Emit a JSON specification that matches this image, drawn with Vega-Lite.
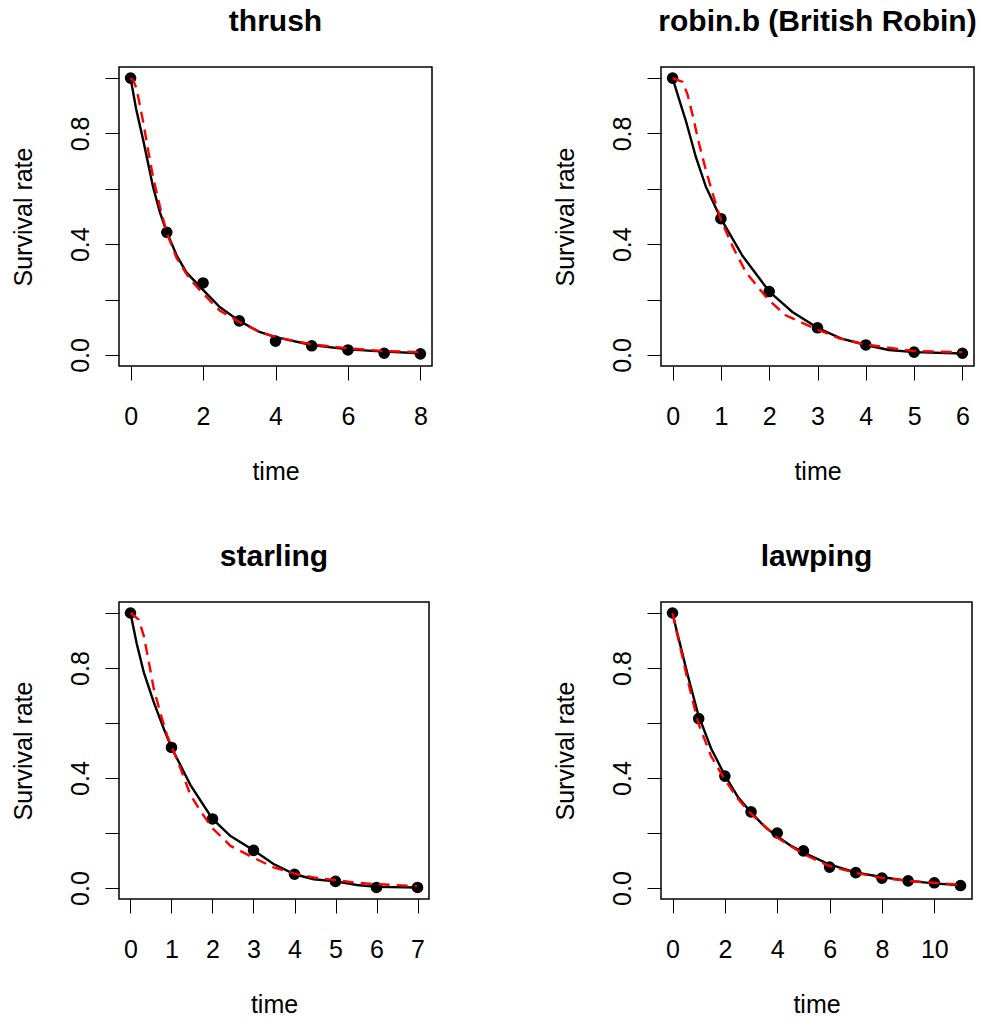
{
  "$schema": "https://vega.github.io/schema/vega-lite/v6.json",
  "background": "white",
  "padding": {"left": 10, "top": 6, "right": 0, "bottom": 0},
  "bounds": "flush",
  "align": "none",
  "columns": 2,
  "spacing": {"row": 236, "column": 229},
  "config": {
    "font": "Liberation Sans",
    "view": {"stroke": "black", "strokeWidth": 1.5},
    "axis": {"domain": false, "grid": false, "ticks": true, "tickColor": "black", "tickWidth": 1, "tickSize": 14, "labelFont": "Liberation Sans", "labelFontSize": 25, "labelColor": "black", "titleFont": "Liberation Sans", "titleFontSize": 25, "titleFontWeight": "normal", "titleColor": "black", "labelOverlap": false, "labelFlush": false},
    "axisX": {"labelPadding": 44, "labelBaseline": "alphabetic", "labelAngle": 0, "titlePadding": 50, "titleBaseline": "alphabetic"},
    "axisY": {"labelPadding": 17, "labelAngle": -90, "labelAlign": "center", "labelBaseline": "alphabetic", "titlePadding": 37, "titleBaseline": "alphabetic"},
    "title": {"font": "Liberation Sans", "fontSize": 30, "fontWeight": "bold", "color": "black", "anchor": "middle", "baseline": "alphabetic", "offset": 30}
  },
  "datasets": {
    "pts": [
      {"species": "thrush", "time": 0, "surv": 1.0},
      {"species": "thrush", "time": 1, "surv": 0.443},
      {"species": "thrush", "time": 2, "surv": 0.26},
      {"species": "thrush", "time": 3, "surv": 0.123},
      {"species": "thrush", "time": 4, "surv": 0.05},
      {"species": "thrush", "time": 5, "surv": 0.033},
      {"species": "thrush", "time": 6, "surv": 0.018},
      {"species": "thrush", "time": 7, "surv": 0.006},
      {"species": "thrush", "time": 8, "surv": 0.004},
      {"species": "robin", "time": 0, "surv": 1.0},
      {"species": "robin", "time": 1, "surv": 0.492},
      {"species": "robin", "time": 2, "surv": 0.229},
      {"species": "robin", "time": 3, "surv": 0.098},
      {"species": "robin", "time": 4, "surv": 0.036},
      {"species": "robin", "time": 5, "surv": 0.01},
      {"species": "robin", "time": 6, "surv": 0.006},
      {"species": "starling", "time": 0, "surv": 1.0},
      {"species": "starling", "time": 1, "surv": 0.511},
      {"species": "starling", "time": 2, "surv": 0.251},
      {"species": "starling", "time": 3, "surv": 0.137},
      {"species": "starling", "time": 4, "surv": 0.05},
      {"species": "starling", "time": 5, "surv": 0.024},
      {"species": "starling", "time": 6, "surv": 0.002},
      {"species": "starling", "time": 7, "surv": 0.002},
      {"species": "lawping", "time": 0, "surv": 1.0},
      {"species": "lawping", "time": 1, "surv": 0.616},
      {"species": "lawping", "time": 2, "surv": 0.407},
      {"species": "lawping", "time": 3, "surv": 0.277},
      {"species": "lawping", "time": 4, "surv": 0.2},
      {"species": "lawping", "time": 5, "surv": 0.135},
      {"species": "lawping", "time": 6, "surv": 0.076},
      {"species": "lawping", "time": 7, "surv": 0.056},
      {"species": "lawping", "time": 8, "surv": 0.036},
      {"species": "lawping", "time": 9, "surv": 0.026},
      {"species": "lawping", "time": 10, "surv": 0.019},
      {"species": "lawping", "time": 11, "surv": 0.009}
    ],
    "fit": [
      {"species": "thrush", "model": "a", "time": 0, "surv": 1.0},
      {"species": "thrush", "model": "a", "time": 0.15, "surv": 0.89},
      {"species": "thrush", "model": "a", "time": 0.35, "surv": 0.775},
      {"species": "thrush", "model": "a", "time": 0.62, "surv": 0.607},
      {"species": "thrush", "model": "a", "time": 0.81, "surv": 0.515},
      {"species": "thrush", "model": "a", "time": 1.0, "surv": 0.443},
      {"species": "thrush", "model": "a", "time": 1.27, "surv": 0.36},
      {"species": "thrush", "model": "a", "time": 1.54, "surv": 0.298},
      {"species": "thrush", "model": "a", "time": 2.0, "surv": 0.235},
      {"species": "thrush", "model": "a", "time": 2.46, "surv": 0.173},
      {"species": "thrush", "model": "a", "time": 3.0, "surv": 0.123},
      {"species": "thrush", "model": "a", "time": 3.56, "surv": 0.083},
      {"species": "thrush", "model": "a", "time": 4.0, "surv": 0.064},
      {"species": "thrush", "model": "a", "time": 5.0, "surv": 0.036},
      {"species": "thrush", "model": "a", "time": 6.0, "surv": 0.02},
      {"species": "thrush", "model": "a", "time": 7.0, "surv": 0.012},
      {"species": "thrush", "model": "a", "time": 8.0, "surv": 0.006},
      {"species": "thrush", "model": "b", "time": 0, "surv": 1.0},
      {"species": "thrush", "model": "b", "time": 0.08, "surv": 0.99},
      {"species": "thrush", "model": "b", "time": 0.165, "surv": 0.962},
      {"species": "thrush", "model": "b", "time": 0.35, "surv": 0.84},
      {"species": "thrush", "model": "b", "time": 0.49, "surv": 0.735},
      {"species": "thrush", "model": "b", "time": 0.62, "surv": 0.643},
      {"species": "thrush", "model": "b", "time": 0.81, "surv": 0.536},
      {"species": "thrush", "model": "b", "time": 1.0, "surv": 0.44},
      {"species": "thrush", "model": "b", "time": 1.27, "surv": 0.35},
      {"species": "thrush", "model": "b", "time": 1.63, "surv": 0.275},
      {"species": "thrush", "model": "b", "time": 2.0, "surv": 0.222},
      {"species": "thrush", "model": "b", "time": 2.46, "surv": 0.16},
      {"species": "thrush", "model": "b", "time": 3.0, "surv": 0.119},
      {"species": "thrush", "model": "b", "time": 3.56, "surv": 0.083},
      {"species": "thrush", "model": "b", "time": 4.0, "surv": 0.065},
      {"species": "thrush", "model": "b", "time": 5.0, "surv": 0.038},
      {"species": "thrush", "model": "b", "time": 6.0, "surv": 0.024},
      {"species": "thrush", "model": "b", "time": 7.0, "surv": 0.014},
      {"species": "thrush", "model": "b", "time": 8.0, "surv": 0.01},
      {"species": "robin", "model": "a", "time": 0, "surv": 1.0},
      {"species": "robin", "model": "a", "time": 0.14, "surv": 0.92},
      {"species": "robin", "model": "a", "time": 0.276, "surv": 0.845},
      {"species": "robin", "model": "a", "time": 0.483, "surv": 0.714},
      {"species": "robin", "model": "a", "time": 0.69, "surv": 0.607},
      {"species": "robin", "model": "a", "time": 1.0, "surv": 0.492},
      {"species": "robin", "model": "a", "time": 1.45, "surv": 0.357},
      {"species": "robin", "model": "a", "time": 2.0, "surv": 0.229},
      {"species": "robin", "model": "a", "time": 2.48, "surv": 0.155},
      {"species": "robin", "model": "a", "time": 3.0, "surv": 0.098},
      {"species": "robin", "model": "a", "time": 3.48, "surv": 0.06},
      {"species": "robin", "model": "a", "time": 4.0, "surv": 0.036},
      {"species": "robin", "model": "a", "time": 4.48, "surv": 0.018},
      {"species": "robin", "model": "a", "time": 5.0, "surv": 0.01},
      {"species": "robin", "model": "a", "time": 6.0, "surv": 0.005},
      {"species": "robin", "model": "b", "time": 0, "surv": 1.0},
      {"species": "robin", "model": "b", "time": 0.21, "surv": 0.986},
      {"species": "robin", "model": "b", "time": 0.31, "surv": 0.94},
      {"species": "robin", "model": "b", "time": 0.41, "surv": 0.869},
      {"species": "robin", "model": "b", "time": 0.55, "surv": 0.762},
      {"species": "robin", "model": "b", "time": 0.69, "surv": 0.667},
      {"species": "robin", "model": "b", "time": 0.83, "surv": 0.583},
      {"species": "robin", "model": "b", "time": 1.0, "surv": 0.488},
      {"species": "robin", "model": "b", "time": 1.24, "surv": 0.393},
      {"species": "robin", "model": "b", "time": 1.52, "surv": 0.298},
      {"species": "robin", "model": "b", "time": 1.97, "surv": 0.202},
      {"species": "robin", "model": "b", "time": 2.34, "surv": 0.143},
      {"species": "robin", "model": "b", "time": 2.98, "surv": 0.093},
      {"species": "robin", "model": "b", "time": 3.45, "surv": 0.06},
      {"species": "robin", "model": "b", "time": 3.99, "surv": 0.038},
      {"species": "robin", "model": "b", "time": 4.55, "surv": 0.024},
      {"species": "robin", "model": "b", "time": 4.99, "surv": 0.014},
      {"species": "robin", "model": "b", "time": 5.99, "surv": 0.01},
      {"species": "starling", "model": "a", "time": 0, "surv": 1.0},
      {"species": "starling", "model": "a", "time": 0.15, "surv": 0.89},
      {"species": "starling", "model": "a", "time": 0.325, "surv": 0.784},
      {"species": "starling", "model": "a", "time": 0.569, "surv": 0.675},
      {"species": "starling", "model": "a", "time": 0.812, "surv": 0.579},
      {"species": "starling", "model": "a", "time": 1.0, "surv": 0.511},
      {"species": "starling", "model": "a", "time": 1.46, "surv": 0.375},
      {"species": "starling", "model": "a", "time": 2.0, "surv": 0.251},
      {"species": "starling", "model": "a", "time": 2.44, "surv": 0.189},
      {"species": "starling", "model": "a", "time": 3.0, "surv": 0.137},
      {"species": "starling", "model": "a", "time": 3.49, "surv": 0.087},
      {"species": "starling", "model": "a", "time": 4.0, "surv": 0.05},
      {"species": "starling", "model": "a", "time": 4.47, "surv": 0.032},
      {"species": "starling", "model": "a", "time": 5.0, "surv": 0.024},
      {"species": "starling", "model": "a", "time": 5.52, "surv": 0.011},
      {"species": "starling", "model": "a", "time": 6.0, "surv": 0.004},
      {"species": "starling", "model": "a", "time": 7.0, "surv": 0.002},
      {"species": "starling", "model": "b", "time": 0, "surv": 1.0},
      {"species": "starling", "model": "b", "time": 0.203, "surv": 0.976},
      {"species": "starling", "model": "b", "time": 0.325, "surv": 0.916},
      {"species": "starling", "model": "b", "time": 0.447, "surv": 0.822},
      {"species": "starling", "model": "b", "time": 0.569, "surv": 0.724},
      {"species": "starling", "model": "b", "time": 0.731, "surv": 0.635},
      {"species": "starling", "model": "b", "time": 0.894, "surv": 0.555},
      {"species": "starling", "model": "b", "time": 1.0, "surv": 0.515},
      {"species": "starling", "model": "b", "time": 1.22, "surv": 0.435},
      {"species": "starling", "model": "b", "time": 1.46, "surv": 0.339},
      {"species": "starling", "model": "b", "time": 1.71, "surv": 0.279},
      {"species": "starling", "model": "b", "time": 1.99, "surv": 0.219},
      {"species": "starling", "model": "b", "time": 2.44, "surv": 0.153},
      {"species": "starling", "model": "b", "time": 2.99, "surv": 0.111},
      {"species": "starling", "model": "b", "time": 3.49, "surv": 0.075},
      {"species": "starling", "model": "b", "time": 3.98, "surv": 0.053},
      {"species": "starling", "model": "b", "time": 4.47, "surv": 0.038},
      {"species": "starling", "model": "b", "time": 4.98, "surv": 0.029},
      {"species": "starling", "model": "b", "time": 5.52, "surv": 0.019},
      {"species": "starling", "model": "b", "time": 5.99, "surv": 0.014},
      {"species": "starling", "model": "b", "time": 6.99, "surv": 0.007},
      {"species": "lawping", "model": "a", "time": 0, "surv": 1.0},
      {"species": "lawping", "model": "a", "time": 0.16, "surv": 0.935},
      {"species": "lawping", "model": "a", "time": 0.319, "surv": 0.875},
      {"species": "lawping", "model": "a", "time": 0.575, "surv": 0.776},
      {"species": "lawping", "model": "a", "time": 0.983, "surv": 0.63},
      {"species": "lawping", "model": "a", "time": 1.47, "surv": 0.508},
      {"species": "lawping", "model": "a", "time": 1.98, "surv": 0.413},
      {"species": "lawping", "model": "a", "time": 2.49, "surv": 0.332},
      {"species": "lawping", "model": "a", "time": 2.98, "surv": 0.277},
      {"species": "lawping", "model": "a", "time": 3.51, "surv": 0.224},
      {"species": "lawping", "model": "a", "time": 3.98, "surv": 0.189},
      {"species": "lawping", "model": "a", "time": 4.53, "surv": 0.153},
      {"species": "lawping", "model": "a", "time": 5.01, "surv": 0.129},
      {"species": "lawping", "model": "a", "time": 5.96, "surv": 0.087},
      {"species": "lawping", "model": "a", "time": 6.99, "surv": 0.057},
      {"species": "lawping", "model": "a", "time": 7.98, "surv": 0.04},
      {"species": "lawping", "model": "a", "time": 9.0, "surv": 0.026},
      {"species": "lawping", "model": "a", "time": 10.0, "surv": 0.017},
      {"species": "lawping", "model": "a", "time": 11.0, "surv": 0.01},
      {"species": "lawping", "model": "b", "time": 0, "surv": 1.0},
      {"species": "lawping", "model": "b", "time": 0.16, "surv": 0.93},
      {"species": "lawping", "model": "b", "time": 0.319, "surv": 0.865},
      {"species": "lawping", "model": "b", "time": 0.575, "surv": 0.757},
      {"species": "lawping", "model": "b", "time": 0.983, "surv": 0.6},
      {"species": "lawping", "model": "b", "time": 1.47, "surv": 0.48},
      {"species": "lawping", "model": "b", "time": 1.98, "surv": 0.397},
      {"species": "lawping", "model": "b", "time": 2.49, "surv": 0.325},
      {"species": "lawping", "model": "b", "time": 2.98, "surv": 0.272},
      {"species": "lawping", "model": "b", "time": 3.98, "surv": 0.184},
      {"species": "lawping", "model": "b", "time": 5.01, "surv": 0.123},
      {"species": "lawping", "model": "b", "time": 5.96, "surv": 0.081},
      {"species": "lawping", "model": "b", "time": 6.99, "surv": 0.055},
      {"species": "lawping", "model": "b", "time": 7.98, "surv": 0.037},
      {"species": "lawping", "model": "b", "time": 9.0, "surv": 0.026},
      {"species": "lawping", "model": "b", "time": 10.0, "surv": 0.019},
      {"species": "lawping", "model": "b", "time": 11.0, "surv": 0.012}
    ]
  },
  "concat": [
    {
      "title": "thrush",
      "width": 313, "height": 299,
      "encoding": {
        "x": {"field": "time", "type": "quantitative", "scale": {"domain": [-0.32, 8.32], "nice": false, "zero": false}, "axis": {"values": [0, 2, 4, 6, 8], "title": "time"}},
        "y": {"field": "surv", "type": "quantitative", "scale": {"domain": [-0.04, 1.04], "nice": false, "zero": false}, "axis": {"values": [0, 0.2, 0.4, 0.6, 0.8, 1], "format": ".1f", "labelExpr": "indexof(['0.0','0.4','0.8'], datum.label) >= 0 ? datum.label : ''", "title": "Survival rate"}}
      },
      "layer": [
        {"data": {"name": "pts"}, "transform": [{"filter": "datum.species === 'thrush'"}], "mark": {"type": "circle", "size": 135, "color": "black", "opacity": 1}},
        {"data": {"name": "fit"}, "transform": [{"filter": "datum.species === 'thrush' && datum.model === 'a'"}], "mark": {"type": "line", "color": "black", "strokeWidth": 2.4}, "encoding": {}},
        {"data": {"name": "fit"}, "transform": [{"filter": "datum.species === 'thrush' && datum.model === 'b'"}], "mark": {"type": "line", "color": "#ff0000", "strokeWidth": 2.4, "strokeDash": [11, 7]}, "encoding": {}}
      ]
    },
    {
      "title": "robin.b (British Robin)",
      "width": 313, "height": 299,
      "encoding": {
        "x": {"field": "time", "type": "quantitative", "scale": {"domain": [-0.24, 6.24], "nice": false, "zero": false}, "axis": {"values": [0, 1, 2, 3, 4, 5, 6], "title": "time"}},
        "y": {"field": "surv", "type": "quantitative", "scale": {"domain": [-0.04, 1.04], "nice": false, "zero": false}, "axis": {"values": [0, 0.2, 0.4, 0.6, 0.8, 1], "format": ".1f", "labelExpr": "indexof(['0.0','0.4','0.8'], datum.label) >= 0 ? datum.label : ''", "title": "Survival rate"}}
      },
      "layer": [
        {"data": {"name": "pts"}, "transform": [{"filter": "datum.species === 'robin'"}], "mark": {"type": "circle", "size": 135, "color": "black", "opacity": 1}},
        {"data": {"name": "fit"}, "transform": [{"filter": "datum.species === 'robin' && datum.model === 'a'"}], "mark": {"type": "line", "color": "black", "strokeWidth": 2.4}, "encoding": {}},
        {"data": {"name": "fit"}, "transform": [{"filter": "datum.species === 'robin' && datum.model === 'b'"}], "mark": {"type": "line", "color": "#ff0000", "strokeWidth": 2.4, "strokeDash": [11, 7]}, "encoding": {}}
      ]
    },
    {
      "title": "starling",
      "width": 310, "height": 297,
      "encoding": {
        "x": {"field": "time", "type": "quantitative", "scale": {"domain": [-0.28, 7.28], "nice": false, "zero": false}, "axis": {"values": [0, 1, 2, 3, 4, 5, 6, 7], "title": "time"}},
        "y": {"field": "surv", "type": "quantitative", "scale": {"domain": [-0.04, 1.04], "nice": false, "zero": false}, "axis": {"values": [0, 0.2, 0.4, 0.6, 0.8, 1], "format": ".1f", "labelExpr": "indexof(['0.0','0.4','0.8'], datum.label) >= 0 ? datum.label : ''", "title": "Survival rate"}}
      },
      "layer": [
        {"data": {"name": "pts"}, "transform": [{"filter": "datum.species === 'starling'"}], "mark": {"type": "circle", "size": 135, "color": "black", "opacity": 1}},
        {"data": {"name": "fit"}, "transform": [{"filter": "datum.species === 'starling' && datum.model === 'a'"}], "mark": {"type": "line", "color": "black", "strokeWidth": 2.4}, "encoding": {}},
        {"data": {"name": "fit"}, "transform": [{"filter": "datum.species === 'starling' && datum.model === 'b'"}], "mark": {"type": "line", "color": "#ff0000", "strokeWidth": 2.4, "strokeDash": [11, 7]}, "encoding": {}}
      ]
    },
    {
      "title": "lawping",
      "width": 311, "height": 297,
      "encoding": {
        "x": {"field": "time", "type": "quantitative", "scale": {"domain": [-0.44, 11.44], "nice": false, "zero": false}, "axis": {"values": [0, 2, 4, 6, 8, 10], "title": "time"}},
        "y": {"field": "surv", "type": "quantitative", "scale": {"domain": [-0.04, 1.04], "nice": false, "zero": false}, "axis": {"values": [0, 0.2, 0.4, 0.6, 0.8, 1], "format": ".1f", "labelExpr": "indexof(['0.0','0.4','0.8'], datum.label) >= 0 ? datum.label : ''", "title": "Survival rate"}}
      },
      "layer": [
        {"data": {"name": "pts"}, "transform": [{"filter": "datum.species === 'lawping'"}], "mark": {"type": "circle", "size": 135, "color": "black", "opacity": 1}},
        {"data": {"name": "fit"}, "transform": [{"filter": "datum.species === 'lawping' && datum.model === 'a'"}], "mark": {"type": "line", "color": "black", "strokeWidth": 2.4}, "encoding": {}},
        {"data": {"name": "fit"}, "transform": [{"filter": "datum.species === 'lawping' && datum.model === 'b'"}], "mark": {"type": "line", "color": "#ff0000", "strokeWidth": 2.4, "strokeDash": [11, 7]}, "encoding": {}}
      ]
    }
  ]
}
